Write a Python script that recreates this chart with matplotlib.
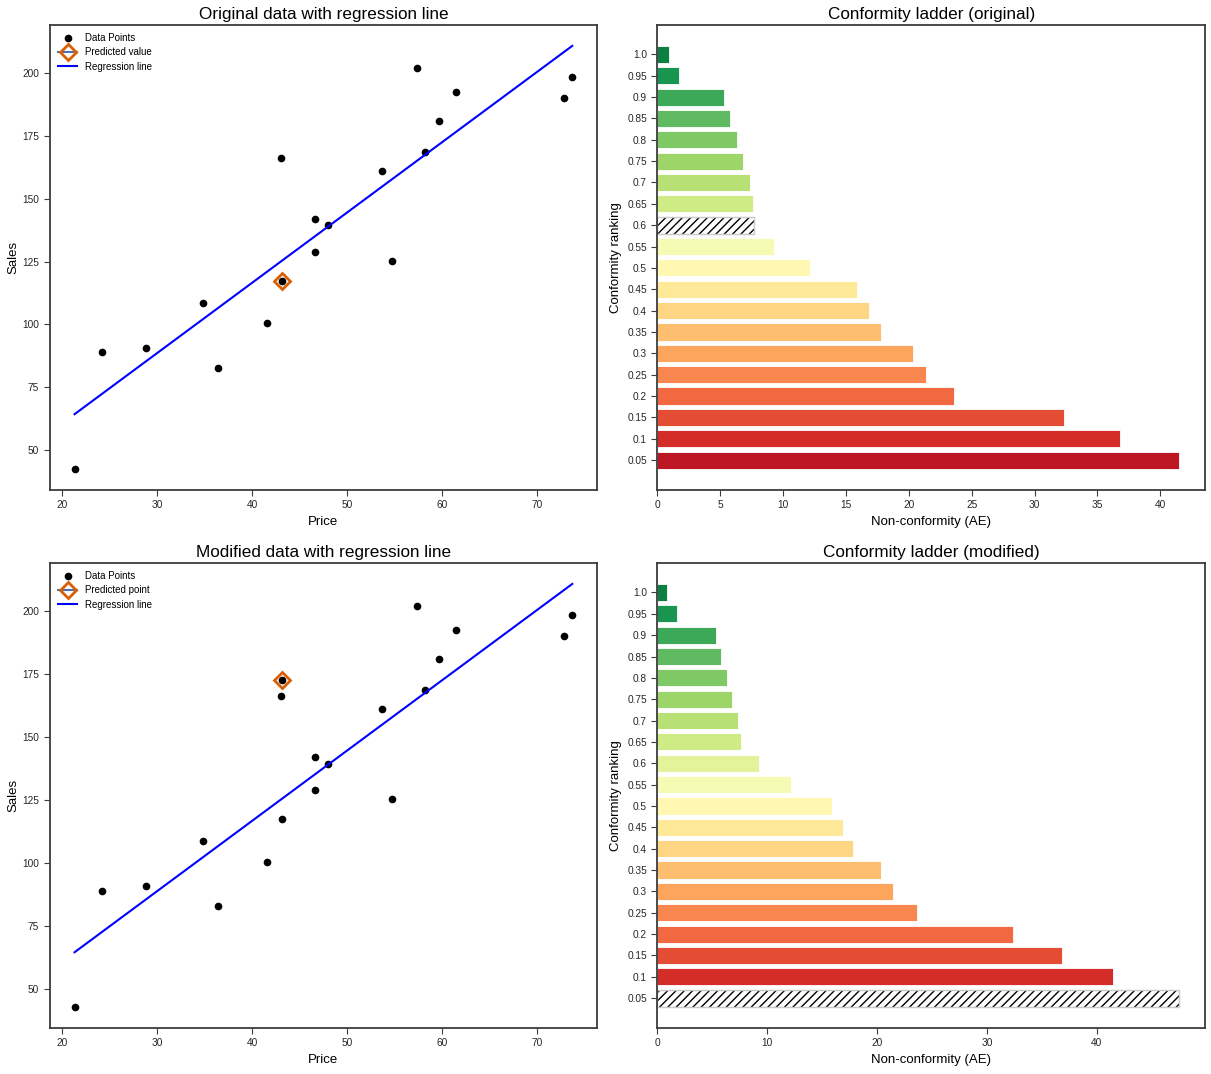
import numpy as np
import matplotlib
matplotlib.use("Agg")
import matplotlib.pyplot as plt

# ---------- data ----------

price = [21.3, 24.2, 28.8, 34.8, 36.4, 41.55, 43.0, 43.1, 46.6, 46.6,
         47.95, 53.7, 54.7, 57.4, 58.2, 59.7, 61.5, 72.8, 73.7]
sales = [42.8, 88.9, 90.6, 108.7, 82.7, 100.4, 166.1, 117.4, 141.8, 128.7,
         139.3, 160.9, 125.1, 201.8, 168.6, 180.7, 192.2, 190.0, 198.2]

test_x = 43.1
test_y_orig = 117.4
test_y_mod = 172.4

# regression line
reg_intercept = 4.97
reg_slope = 2.79

# non-conformity scores (absolute errors) of the 19 training points
base_ae = [0.91, 1.74, 5.32, 5.78, 6.35, 6.83, 7.36, 7.64, 9.28, 12.15,
           15.86, 16.87, 17.78, 20.35, 21.4, 23.6, 32.38, 36.82, 41.48]
test_ae_orig = 7.67
test_ae_mod = 47.46

rank_labels = ["0.05", "0.1", "0.15", "0.2", "0.25", "0.3", "0.35", "0.4",
               "0.45", "0.5", "0.55", "0.6", "0.65", "0.7", "0.75", "0.8",
               "0.85", "0.9", "0.95", "1.0"]

# ---------- style ----------

plt.rcParams["font.family"] = ["Liberation Sans", "DejaVu Sans"]
plt.rcParams["axes.edgecolor"] = "#3c3c3c"
plt.rcParams["axes.linewidth"] = 1.3
plt.rcParams["xtick.color"] = "#3c3c3c"
plt.rcParams["ytick.color"] = "#3c3c3c"
plt.rcParams["xtick.labelcolor"] = "#262626"
plt.rcParams["ytick.labelcolor"] = "#262626"
plt.rcParams["xtick.labelsize"] = 7.3
plt.rcParams["ytick.labelsize"] = 7.3
plt.rcParams["xtick.major.size"] = 4
plt.rcParams["ytick.major.size"] = 4
plt.rcParams["hatch.color"] = "black"
plt.rcParams["hatch.linewidth"] = 1.0

TITLE_FS = 12.3
LABEL_FS = 9.5
ORANGE = "#d95f02"


def plot_scatter(ax, test_y, title, pred_label, extra_point):
    xs = list(price)
    ys = list(sales)
    if extra_point:
        xs.append(test_x)
        ys.append(test_y)
    ax.plot(xs, ys, "o", color="black", ms=4.5, linestyle="none",
            label="Data Points")
    ax.plot([test_x], [test_y], marker="D", ms=8, mfc="none", mec=ORANGE,
            mew=2, color="#4c72b0", label=pred_label)
    line_x = np.array([min(price), max(price)])
    ax.plot(line_x, reg_intercept + reg_slope * line_x, color="blue",
            lw=1.5, label="Regression line")
    ax.set_yticks([50, 75, 100, 125, 150, 175, 200])
    ax.set_xlabel("Price", fontsize=LABEL_FS)
    ax.set_ylabel("Sales", fontsize=LABEL_FS, labelpad=2)
    ax.set_title(title, fontsize=TITLE_FS, pad=4)
    ax.legend(loc="upper left", frameon=False, fontsize=7,
              handlelength=2.0, borderaxespad=0.45, labelspacing=0.45)


def plot_ladder(ax, test_ae, title):
    scores = sorted(base_ae + [test_ae], reverse=True)
    test_idx = scores.index(test_ae)
    ypos = np.arange(len(scores))
    colors = plt.cm.RdYlGn(np.linspace(0.05, 0.95, len(scores)))
    for i, s in enumerate(scores):
        if i == test_idx:
            ax.barh(ypos[i], s, height=0.8, color="white", edgecolor="black",
                    linewidth=0, hatch="////")
            ax.barh(ypos[i], s, height=0.8, fill=False,
                    edgecolor="#c8c8c8", linewidth=1.0)
        else:
            ax.barh(ypos[i], s, height=0.8, color=colors[i],
                    edgecolor="white", linewidth=0.6)
    ax.set_yticks(ypos)
    ax.set_yticklabels(rank_labels)
    ax.set_xlabel("Non-conformity (AE)", fontsize=LABEL_FS)
    ax.set_ylabel("Conformity ranking", fontsize=LABEL_FS)
    ax.set_title(title, fontsize=TITLE_FS, pad=4)


fig, axes = plt.subplots(2, 2, figsize=(12.11, 10.74), dpi=100)
fig.subplots_adjust(left=0.041, right=0.995, bottom=0.043, top=0.977,
                    wspace=0.11, hspace=0.157)

plot_scatter(axes[0, 0], test_y_orig, "Original data with regression line",
             "Predicted value", extra_point=False)
plot_ladder(axes[0, 1], test_ae_orig, "Conformity ladder (original)")
plot_scatter(axes[1, 0], test_y_mod, "Modified data with regression line",
             "Predicted point", extra_point=True)
plot_ladder(axes[1, 1], test_ae_mod, "Conformity ladder (modified)")

fig.savefig("out.png", dpi=100)
